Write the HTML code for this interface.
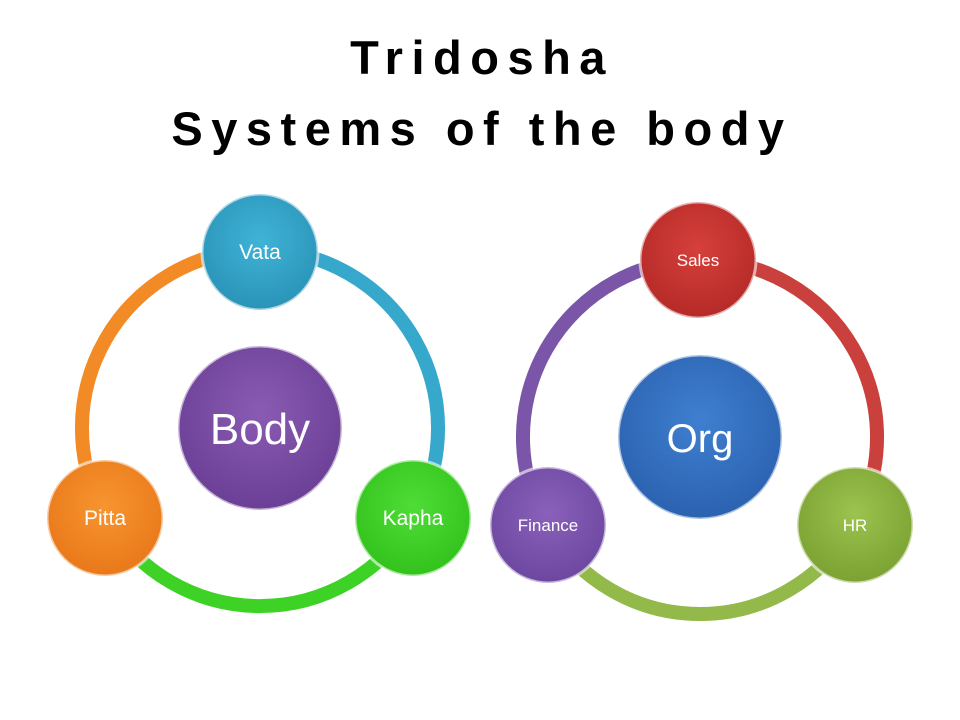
<!DOCTYPE html>
<html><head><style>
html,body{margin:0;padding:0;background:#fff;}
svg{display:block;}
</style></head><body>
<svg width="960" height="720" viewBox="0 0 960 720" xmlns="http://www.w3.org/2000/svg">
<defs>
<radialGradient id="gb" cx="50%" cy="40%" r="60%"><stop offset="0" stop-color="#3fb4d6"/><stop offset="1" stop-color="#2a93b8"/></radialGradient>
<radialGradient id="go" cx="50%" cy="40%" r="60%"><stop offset="0" stop-color="#f7952f"/><stop offset="1" stop-color="#e9781a"/></radialGradient>
<radialGradient id="gg" cx="50%" cy="40%" r="60%"><stop offset="0" stop-color="#4fdc37"/><stop offset="1" stop-color="#33c21c"/></radialGradient>
<radialGradient id="gp" cx="50%" cy="40%" r="60%"><stop offset="0" stop-color="#8a5bb3"/><stop offset="1" stop-color="#6b3f96"/></radialGradient>
<radialGradient id="gr" cx="50%" cy="40%" r="60%"><stop offset="0" stop-color="#d6403c"/><stop offset="1" stop-color="#b52a27"/></radialGradient>
<radialGradient id="gl" cx="50%" cy="40%" r="60%"><stop offset="0" stop-color="#9cc24f"/><stop offset="1" stop-color="#7ba232"/></radialGradient>
<radialGradient id="gu" cx="50%" cy="40%" r="60%"><stop offset="0" stop-color="#3f7fd0"/><stop offset="1" stop-color="#2b62b0"/></radialGradient>
<radialGradient id="gv" cx="50%" cy="40%" r="60%"><stop offset="0" stop-color="#8a61ba"/><stop offset="1" stop-color="#6c47a0"/></radialGradient>
</defs>
<g font-family="Liberation Sans, sans-serif" font-weight="bold" font-size="47" text-anchor="middle" fill="#000" letter-spacing="8.5">
<text x="482" y="74">Tridosha</text>
<text x="482" y="145">Systems of the body</text>
</g>
<g fill="none" stroke-width="14">
<path d="M260 250 A178 178 0 0 0 105.8 517" stroke="#f28a25"/>
<path d="M260 250 A178 178 0 0 1 414.2 517" stroke="#35a8cc"/>
<path d="M105.8 517 A178 178 0 0 0 414.2 517" stroke="#3ed226"/>
<path d="M698 260 A177 177 0 0 0 546.7 525.5" stroke="#7b56a8"/>
<path d="M698 260 A177 177 0 0 1 853.3 525.5" stroke="#c9403c"/>
<path d="M546.7 525.5 A177 177 0 0 0 853.3 525.5" stroke="#92b94a"/>
</g>
<g stroke="#fff" stroke-width="3" stroke-opacity="0.6">
<circle cx="260" cy="428" r="82" fill="url(#gp)"/>
<circle cx="260" cy="252" r="58" fill="url(#gb)"/>
<circle cx="105" cy="518" r="58" fill="url(#go)"/>
<circle cx="413" cy="518" r="58" fill="url(#gg)"/>
<circle cx="700" cy="437" r="82" fill="url(#gu)"/>
<circle cx="698" cy="260" r="58" fill="url(#gr)"/>
<circle cx="548" cy="525" r="58" fill="url(#gv)"/>
<circle cx="855" cy="525" r="58" fill="url(#gl)"/>
</g>
<g font-family="Liberation Sans, sans-serif" fill="#fff" text-anchor="middle">
<text x="260" y="444" font-size="44">Body</text>
<text x="260" y="259" font-size="21">Vata</text>
<text x="105" y="525" font-size="21">Pitta</text>
<text x="413" y="525" font-size="21">Kapha</text>
<text x="700" y="452" font-size="40">Org</text>
<text x="698" y="266" font-size="17">Sales</text>
<text x="548" y="531" font-size="17">Finance</text>
<text x="855" y="531" font-size="17">HR</text>
</g>
</svg>
</body></html>
